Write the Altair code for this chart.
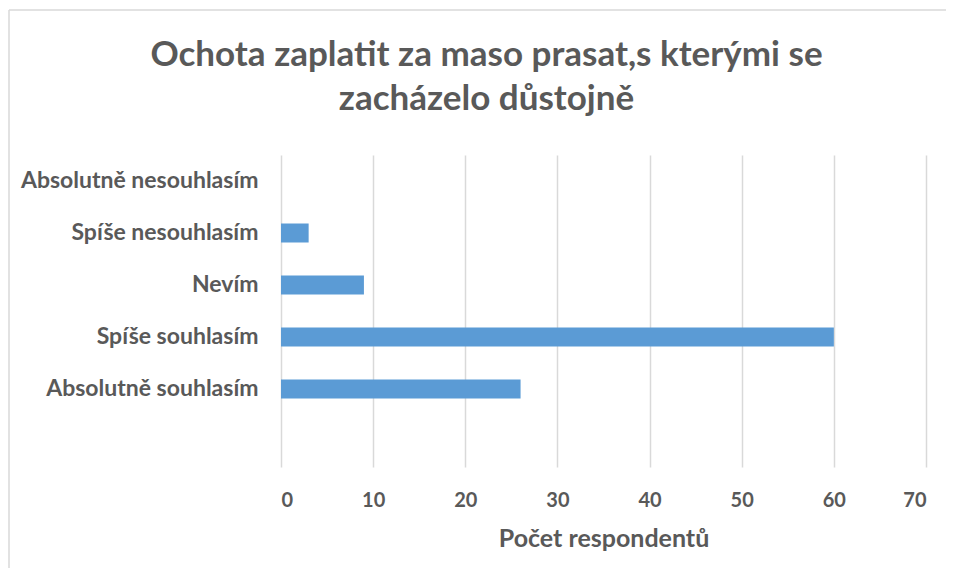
import altair as alt
import pandas as pd

categories = ["Absolutně nesouhlasím", "Spíše nesouhlasím", "Nevím", "Spíše souhlasím", "Absolutně souhlasím"]
values = [0, 3, 9, 60, 26]
y_domain = categories + [" "]
x_ticks = [0, 10, 20, 30, 40, 50, 60, 70]
title_lines = ["Ochota zaplatit za maso prasat,s kterými se", "zacházelo důstojně"]
x_title = "Počet respondentů"

df = pd.DataFrame({"kategorie": categories, "pocet": values})

FONT = "Lato"
TXT = "#595959"
GRID = "#d9d9d9"

bars = alt.Chart(df).mark_bar(size=19, color="#5B9BD5").encode(
    x=alt.X(
        "pocet:Q",
        scale=alt.Scale(domain=[0, 70], nice=False),
        axis=alt.Axis(
            values=x_ticks, title=x_title, grid=True, gridColor=GRID, gridWidth=1.5,
            domain=False, ticks=False,
            labelFont=FONT, labelFontSize=20, labelFontWeight="bold", labelColor=TXT, labelPadding=23,
            titleFont=FONT, titleFontSize=25, titleFontWeight="bold", titleColor=TXT, titlePadding=16,
        ),
    ),
    y=alt.Y(
        "kategorie:N",
        scale=alt.Scale(domain=y_domain, paddingInner=0, paddingOuter=0),
        axis=alt.Axis(
            title=None, domain=False, ticks=False, grid=False, labelLimit=0,
            labelFont=FONT, labelFontSize=23, labelFontWeight="bold", labelColor=TXT, labelPadding=23,
        ),
    ),
)

frame_df = pd.DataFrame({"a": [0]})
left_border = alt.Chart(frame_df).mark_rule(color=GRID, strokeWidth=1.5).encode(
    x=alt.value(-272), y=alt.value(-145), y2=alt.value(420)
)
top_border = alt.Chart(frame_df).mark_rule(color=GRID, strokeWidth=1.5).encode(
    x=alt.value(-272), x2=alt.value(700), y=alt.value(-145)
)

chart = alt.layer(left_border, top_border, bars).properties(
    width=645,
    height=312,
    padding={"left": 273, "top": 147, "right": 20, "bottom": 101},
    autosize=alt.AutoSizeParams(type="none"),
    title=alt.TitleParams(
        text=title_lines, font=FONT, fontSize=35, fontWeight="bold", color=TXT,
        anchor="middle", dx=-117, offset=0, dy=136, baseline="alphabetic", lineHeight=44,
    ),
).configure_view(strokeWidth=0)

chart.save("out.html", embed_options={"renderer": "svg", "actions": False})
